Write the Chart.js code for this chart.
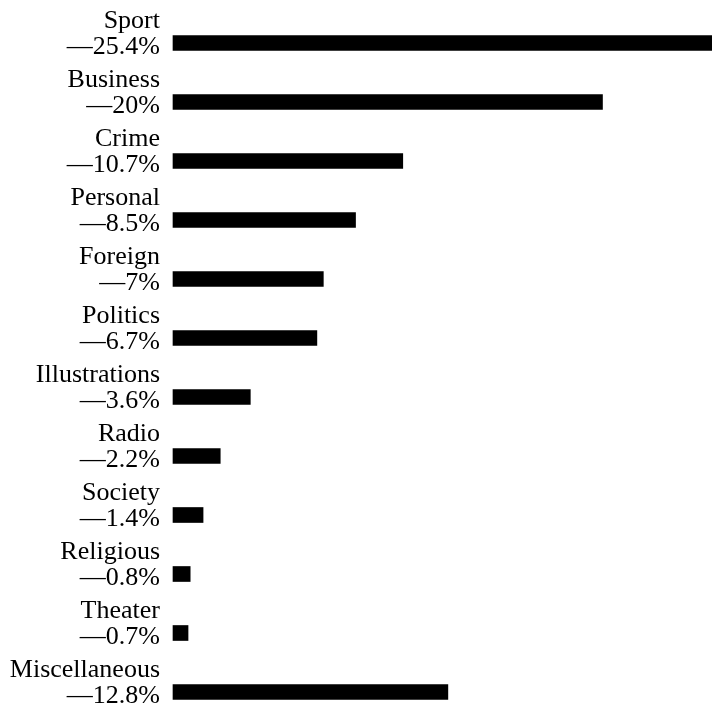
<!DOCTYPE html>
<html>
<head>
<meta charset="utf-8">
<script src="https://cdn.jsdelivr.net/npm/chart.js@4/dist/chart.umd.min.js"></script>
<style>
  html, body { margin: 0; padding: 0; background: #fff; overflow: hidden; }
  canvas { display: block; }
</style>
</head>
<body>
<canvas id="newsChart" width="712" height="707"></canvas>
<script>
// share of news space by subject
const categories = ["Sport", "Business", "Crime", "Personal", "Foreign", "Politics",
  "Illustrations", "Radio", "Society", "Religious", "Theater", "Miscellaneous"];
const shares = [25.4, 20, 10.7, 8.5, 7, 6.7, 3.6, 2.2, 1.4, 0.8, 0.7, 12.8];
const shareLabels = ["\u201425.4%", "\u201420%", "\u201410.7%", "\u20148.5%", "\u20147%", "\u20146.7%",
  "\u20143.6%", "\u20142.2%", "\u20141.4%", "\u20140.8%", "\u20140.7%", "\u201412.8%"];

new Chart("newsChart", {
  type: "bar",
  data: {
    labels: categories,
    datasets: [{
      data: shares,
      backgroundColor: "#000",
      borderWidth: 0,
      barThickness: 15,
      clip: false
    }]
  },
  options: {
    indexAxis: "y",
    responsive: false,
    animation: false,
    layout: { padding: { top: 43, bottom: 15, left: 0, right: 0 } },
    plugins: {
      legend: { display: false },
      tooltip: { enabled: false }
    },
    scales: {
      x: {
        display: false,
        min: 0,
        max: 25.1
      },
      y: {
        offset: false,
        grid: { display: false, drawTicks: false },
        border: { display: false },
        ticks: {
          color: "#000",
          padding: 13,
          labelOffset: -9,
          font: { family: "Liberation Serif", size: 26, lineHeight: 1.0 },
          callback: function (value, index) {
            return [categories[index], shareLabels[index]];
          }
        },
        afterFit: function (scale) {
          // fixed label column, and let the two-line labels hang over the edges
          scale.width = 173;
          scale.paddingTop = 0;
          scale.paddingBottom = 0;
        }
      }
    }
  }
});
</script>
</body>
</html>
